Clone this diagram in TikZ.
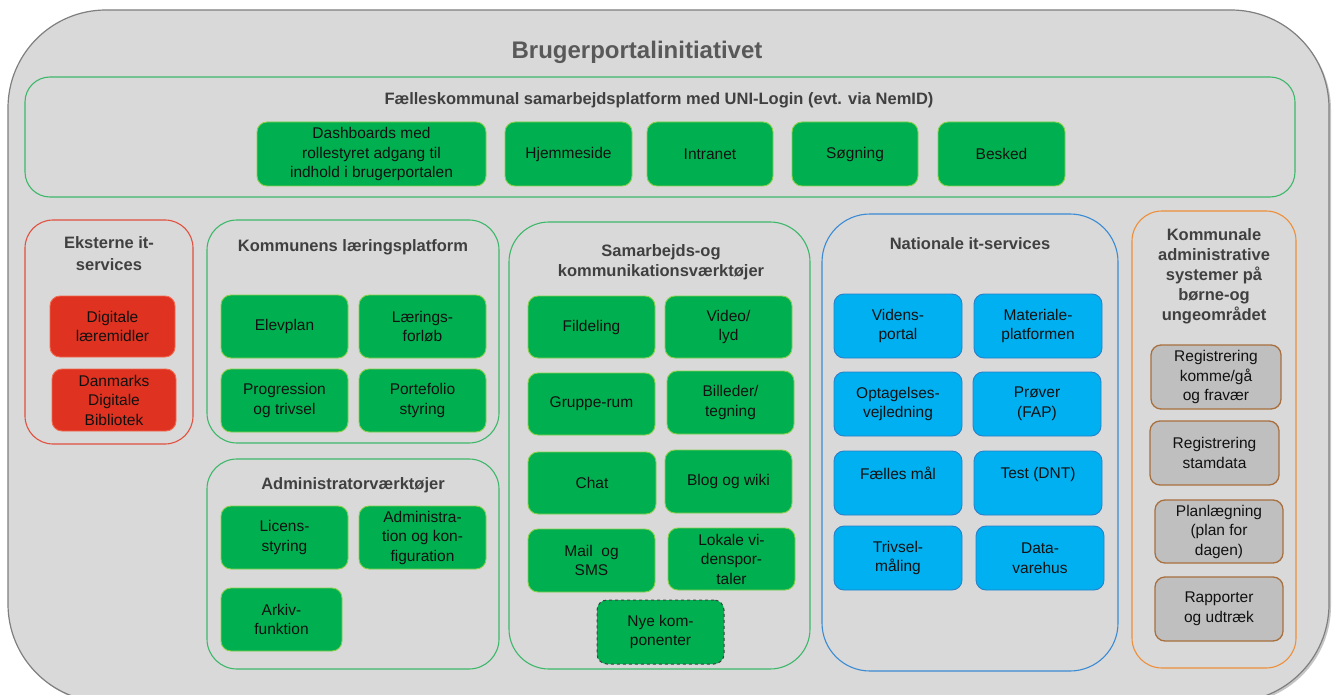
\documentclass[tikz,border=0pt]{standalone}
\usepackage{fontspec}
\setmainfont{Liberation Sans}
\usetikzlibrary{shadows}
\definecolor{bggray}{HTML}{D9D9D9}
\definecolor{outline}{HTML}{7F7F7F}
\definecolor{titlegray}{HTML}{595959}
\definecolor{heading}{HTML}{404040}
\definecolor{pgreen}{HTML}{3DB86A}
\definecolor{pred}{HTML}{E2503F}
\definecolor{pblue}{HTML}{3A8AD4}
\definecolor{porange}{HTML}{EE8F3A}
\definecolor{gfill}{HTML}{00B050}
\definecolor{gline}{HTML}{86D04A}
\definecolor{rfill}{HTML}{E03220}
\definecolor{rline}{HTML}{F06A50}
\definecolor{cfill}{HTML}{00B0F0}
\definecolor{cline}{HTML}{2A80C8}
\definecolor{grfill}{HTML}{BFBFBF}
\definecolor{grline}{HTML}{A8703E}
\definecolor{boxtext}{HTML}{111111}
\newcommand\bxx[7]{%
  \node[#1, minimum width={(#5-#3)*1pt}, minimum height={(#6-#4)*1pt}] (#2) at ({(#3+#5)/2},{(#4+#6)/2}) {#7};}
\tikzset{
  outerbox/.style={rectangle, rounded corners=98pt, fill=bggray, draw=outline, line width=1.2pt,
    drop shadow={opacity=0.45, shadow xshift=2pt, shadow yshift=-2pt}},
  panel/.style={rectangle, rounded corners=#1, line width=1.1pt},
  gpanel/.style={panel=#1, draw=pgreen},
  rpanel/.style={panel=#1, draw=pred},
  bpanel/.style={panel=#1, draw=pblue},
  opanel/.style={panel=#1, draw=porange},
  basebox/.style={rectangle, rounded corners=10pt, line width=0.9pt, align=center, text=boxtext,
    inner sep=1pt, font=\fontsize{15.5}{19.5}\selectfont},
  gbox/.style={basebox, fill=gfill, draw=gline},
  gdash/.style={basebox, fill=gfill, draw=heading, dashed, line width=1pt},
  rbox/.style={basebox, fill=rfill, draw=rline},
  cbox/.style={basebox, fill=cfill, draw=cline},
  graybox/.style={basebox, fill=grfill, draw=grline, line width=1.3pt},
  heading/.style={align=center, text=heading, inner sep=0pt, font=\bfseries\fontsize{16.5}{20}\selectfont},
}
\begin{document}
\begin{tikzpicture}[x=1pt,y=-1pt]
\clip (0,0) rectangle (1335,695);
\fill[white] (0,0) rectangle (1335,695);
\bxx{outerbox}{outer}{8}{10}{1329}{702}{}
\node[text=titlegray, font=\bfseries\fontsize{24}{28}\selectfont, inner sep=0pt] (title) at (637,52) {Brugerportalinitiativet};

% platform
\bxx{gpanel=25pt}{platform}{25}{77}{1295}{197}{}
\node[heading, font=\bfseries\fontsize{16.5}{20}\selectfont] (platformtitle) at (659,100) {Fælleskommunal samarbejdsplatform med UNI-Login (evt. via NemID)};
\bxx{gbox}{dash}{257}{122}{486}{186}{Dashboards med\\rollestyret adgang til\\indhold i brugerportalen}
\bxx{gbox}{hjem}{505}{122}{632}{186}{Hjemmeside}
\bxx{gbox}{intra}{647}{122}{773}{186}{Intranet}
\bxx{gbox}{soeg}{792}{122}{918}{186}{Søgning}
\bxx{gbox}{besk}{938}{122}{1065}{186}{Besked}

% eksterne
\bxx{rpanel=28pt}{ekst}{25}{220}{193}{444}{}
\node[heading, font=\bfseries\fontsize{16.5}{22}\selectfont] (eksttitle) at (109,254) {Eksterne it-\\services};
\bxx{rbox}{digi}{50}{296}{175}{357}{Digitale\\læremidler}
\bxx{rbox}{ddb}{52}{369}{176}{431}{Danmarks\\Digitale\\Bibliotek}

% kommunens laeringsplatform
\bxx{gpanel=30pt}{laer}{207}{220}{499}{443}{}
\node[heading] (laertitle) at (353,247) {Kommunens læringsplatform};
\bxx{gbox}{elev}{221}{295}{348}{358}{Elevplan}
\bxx{gbox}{forl}{359}{295}{486}{358}{Lærings-\\forløb}
\bxx{gbox}{prog}{221}{369}{348}{432}{Progression\\og trivsel}
\bxx{gbox}{port}{359}{369}{486}{432}{Portefolio\\styring}

% administrator
\bxx{gpanel=30pt}{admin}{207}{459}{499}{669}{}
\node[heading] (admintitle) at (353,485) {Administratorværktøjer};
\bxx{gbox}{lic}{221}{506}{348}{569}{Licens-\\styring}
\bxx{gbox}{adm}{359}{506}{486}{569}{Administra-\\tion og kon-\\figuration}
\bxx{gbox}{ark}{221}{588}{342}{651}{Arkiv-\\funktion}

% samarbejds
\bxx{gpanel=40pt}{samarb}{509}{222}{810}{669}{}
\node[heading] (samarbtitle) at (661,262) {Samarbejds-og\\kommunikationsværktøjer};
\bxx{gbox}{fild}{528}{296}{655}{358}{Fildeling}
\bxx{gbox}{video}{665}{296}{792}{358}{Video/\\lyd}
\bxx{gbox}{grup}{528}{373}{655}{435}{Gruppe-rum}
\bxx{gbox}{bill}{667}{371}{794}{434}{Billeder/\\tegning}
\bxx{gbox}{chat}{528}{452}{656}{514}{Chat}
\bxx{gbox}{blog}{665}{450}{792}{513}{Blog og wiki}
\bxx{gbox}{mail}{528}{529}{655}{592}{Mail~ og\\SMS}
\bxx{gbox}{lok}{668}{528}{795}{590}{Lokale vi-\\denspor-\\taler}
\bxx{gdash}{nye}{597}{600}{724}{664}{Nye kom-\\ponenter}

% nationale
\bxx{bpanel=48pt}{nat}{822}{214}{1118}{671}{}
\node[heading] (nattitle) at (970,244) {Nationale it-services};
\bxx{cbox}{vid}{834}{294}{962}{358}{Videns-\\portal}
\bxx{cbox}{mat}{974}{294}{1102}{358}{Materiale-\\platformen}
\bxx{cbox}{opt}{834}{372}{962}{436}{Optagelses-\\vejledning}
\bxx{cbox}{prov}{973}{372}{1101}{436}{Prøver\\(FAP)}
\bxx{cbox}{faell}{834}{451}{962}{515}{Fælles mål\\\mbox{}}
\bxx{cbox}{test}{974}{451}{1102}{515}{Test (DNT)\\\mbox{}}
\bxx{cbox}{triv}{834}{526}{962}{590}{Trivsel-\\måling}
\bxx{cbox}{data}{976}{526}{1104}{590}{Data-\\varehus}

% kommunale
\bxx{opanel=30pt}{komm}{1132}{211}{1296}{668}{}
\node[heading, font=\bfseries\fontsize{16.5}{20}\selectfont] (kommtitle) at (1214,276) {Kommunale\\administrative\\systemer på\\børne-og\\ungeområdet};
\bxx{graybox}{reg1}{1151}{345}{1281}{409}{Registrering\\komme/gå\\og fravær}
\bxx{graybox}{reg2}{1150}{421}{1279}{485}{Registrering\\stamdata}
\bxx{graybox}{plan}{1155}{500}{1283}{563}{Planlægning\\(plan for\\dagen)}
\bxx{graybox}{rapp}{1155}{577}{1283}{641}{Rapporter\\og udtræk}
\end{tikzpicture}
\end{document}
